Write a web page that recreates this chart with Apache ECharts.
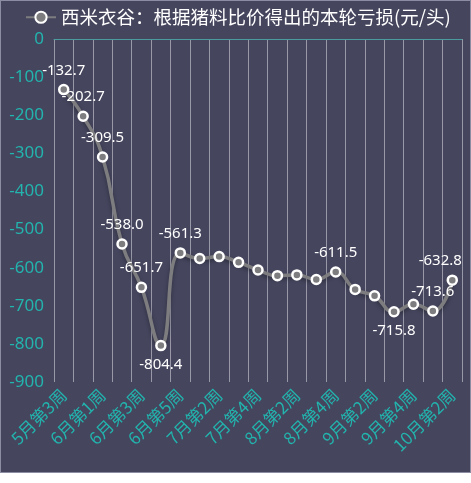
<!DOCTYPE html>
<html>
<head>
<meta charset="utf-8">
<script src="https://cdn.jsdelivr.net/npm/echarts@6/dist/echarts.min.js"></script>
<style>
  html, body { margin: 0; padding: 0; background: #ffffff; }
  #chart { width: 469px; height: 471px; background: #45455e; border: 1px solid #8c8ca2; }
</style>
</head>
<body>
<div id="chart"></div>
<script>
// 周次
const weeks = [
    '5月第3周', '5月第4周',
    '6月第1周', '6月第2周', '6月第3周', '6月第4周', '6月第5周',
    '7月第1周', '7月第2周', '7月第3周', '7月第4周',
    '8月第1周', '8月第2周', '8月第3周', '8月第4周',
    '9月第1周', '9月第2周', '9月第3周', '9月第4周',
    '10月第1周', '10月第2周'
];

// 本轮亏损(元/头)
const losses = [
    -132.7, -202.7, -309.5, -538.0, -651.7, -804.4, -561.3,
    -576, -571, -586, -606, -621, -619, -631, -611.5,
    -657, -674, -715.8, -696, -713.6, -632.8
];

// 需要显示数值的点：下标 -> 标签位置
const labelled = { 0: 'top', 1: 'top', 2: 'top', 3: 'top', 4: 'top', 5: 'bottom',
    6: 'top', 14: 'top', 17: 'bottom', 19: 'top', 20: 'top' };

const yTicks = { min: -900, max: 0, step: 100 };

const teal = '#22b4ad';

const seriesData = losses.map((v, i) => {
    const pos = labelled[i];
    if (!pos) return v;
    const label = { show: true, position: pos, formatter: p => p.value.toFixed(1) };
    // 最后一个点的标签往左挪，免得出界
    if (i === losses.length - 1) label.offset = [-12, 0];
    return { value: v, label: label };
});

const chart = echarts.init(document.getElementById('chart'));
chart.setOption({
    backgroundColor: 'transparent',
    animation: false,
    legend: {
        left: 19,
        top: 2,
        itemWidth: 30,
        itemHeight: 14,
        textStyle: { color: '#ffffff', fontSize: 18.5, fontFamily: 'Noto Sans CJK SC' },
        data: ['西米衣谷：根据猪料比价得出的本轮亏损(元/头)']
    },
    grid: { left: 53, right: 8, top: 38, bottom: 90 },
    xAxis: {
        type: 'category',
        data: weeks,
        boundaryGap: true,
        axisLine: { show: true, lineStyle: { color: '#4a9a9e', width: 1 } },
        axisTick: { show: false },
        axisLabel: {
            interval: 1,
            rotate: 45,
            color: teal,
            fontSize: 17,
            margin: 10,
            fontFamily: 'Noto Sans CJK SC'
        },
        splitLine: { show: true, interval: 0, lineStyle: { color: 'rgba(220,220,230,0.55)', width: 1 } }
    },
    yAxis: {
        type: 'value',
        min: yTicks.min,
        max: yTicks.max,
        interval: yTicks.step,
        axisLine: { show: false },
        axisTick: { show: false },
        splitLine: { show: false },
        axisLabel: { color: teal, fontSize: 17, margin: 10, fontFamily: 'Noto Sans' }
    },
    series: [{
        name: '西米衣谷：根据猪料比价得出的本轮亏损(元/头)',
        type: 'line',
        smooth: true,
        data: seriesData,
        symbol: 'circle',
        symbolSize: 9,
        lineStyle: {
            color: '#7d7d80', width: 3.5,
            shadowColor: 'rgba(0,0,0,0.35)', shadowBlur: 4, shadowOffsetY: 2
        },
        itemStyle: { color: '#7d7d80', borderColor: '#ffffff', borderWidth: 2.5 },
        label: {
            show: false,
            color: '#ffffff',
            fontSize: 15,
            distance: 6,
            fontFamily: 'Noto Sans'
        }
    }]
});
</script>
</body>
</html>
